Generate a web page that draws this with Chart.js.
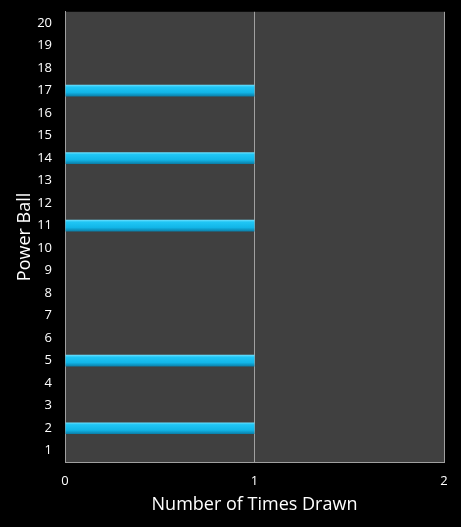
<!DOCTYPE html>
<html>
<head>
<meta charset="utf-8">
<script src="https://cdn.jsdelivr.net/npm/chart.js@4/dist/chart.umd.min.js"></script>
<style>
    html, body { margin: 0; padding: 0; background: #000; }
    #wrap { width: 461px; height: 527px; }
</style>
</head>
<body>
<div id="wrap"><canvas id="chart"></canvas></div>
<script>
// Power ball numbers 1..20 and how often each came up
const powerBalls = ['1','2','3','4','5','6','7','8','9','10','11','12','13','14','15','16','17','18','19','20'];
const timesDrawn = [0, 1, 0, 0, 1, 0, 0, 0, 0, 0, 1, 0, 0, 1, 0, 0, 1, 0, 0, 0];
const xTicks = [0, 1, 2];

// fill the plot area grey behind the bars
const plotBg = {
    id: 'plotBg',
    beforeDraw(chart) {
        const { ctx, chartArea: a } = chart;
        ctx.save();
        ctx.fillStyle = '#404040';
        ctx.fillRect(a.left, a.top, a.right - a.left, a.bottom - a.top);
        ctx.restore();
    }
};

function barFill(context) {
    const chart = context.chart;
    const y = chart.scales.y;
    if (!y || context.dataIndex === undefined) return '#1fb6e6';
    const mid = y.getPixelForValue(context.dataIndex);
    if (!isFinite(mid)) return '#1fb6e6';
    const half = 6;
    const g = chart.ctx.createLinearGradient(0, mid - half, 0, mid + half);
    g.addColorStop(0, '#74e2ff');
    g.addColorStop(0.2, '#20c6f5');
    g.addColorStop(0.65, '#12b6e8');
    g.addColorStop(1, '#0a7aa3');
    return g;
}

new Chart(document.getElementById('chart'), {
    type: 'bar',
    data: {
        labels: powerBalls,
        datasets: [{
            data: timesDrawn,
            backgroundColor: barFill,
            borderWidth: 0,
            barPercentage: 0.52,
            categoryPercentage: 1
        }]
    },
    plugins: [plotBg],
    options: {
        indexAxis: 'y',
        responsive: true,
        maintainAspectRatio: false,
        animation: false,
        layout: { padding: { top: 0, right: 17, bottom: 11, left: 14 } },
        plugins: { legend: { display: false }, tooltip: { enabled: false } },
        scales: {
            x: {
                min: 0, max: 2,
                afterBuildTicks: s => { s.ticks = xTicks.map(v => ({ value: v })); },
                afterFit: s => { s.height = 54; },
                grid: { color: '#a0a0a0', lineWidth: 1, drawTicks: false },
                border: { color: '#a0a0a0' },
                ticks: { color: '#fff', padding: 11, font: { family: 'Open Sans', size: 13 } },
                title: { display: true, text: 'Number of Times Drawn', color: '#fff', padding: { top: 4, bottom: 0 }, font: { family: 'Open Sans', size: 18 } }
            },
            y: {
                reverse: true,
                afterFit: s => { s.width = 51; },
                // invisible tick marks just push the labels away from the axis
                grid: { color: 'rgba(0,0,0,0)', drawOnChartArea: false, drawTicks: true, tickLength: 9, tickColor: 'rgba(0,0,0,0)' },
                border: { color: '#a0a0a0' },
                ticks: { color: '#fff', padding: 4, font: { family: 'Open Sans', size: 13 } },
                title: { display: true, text: 'Power Ball', color: '#fff', padding: { top: 0, bottom: 2 }, font: { family: 'Open Sans', size: 18 } }
            }
        }
    }
});
</script>
</body>
</html>
